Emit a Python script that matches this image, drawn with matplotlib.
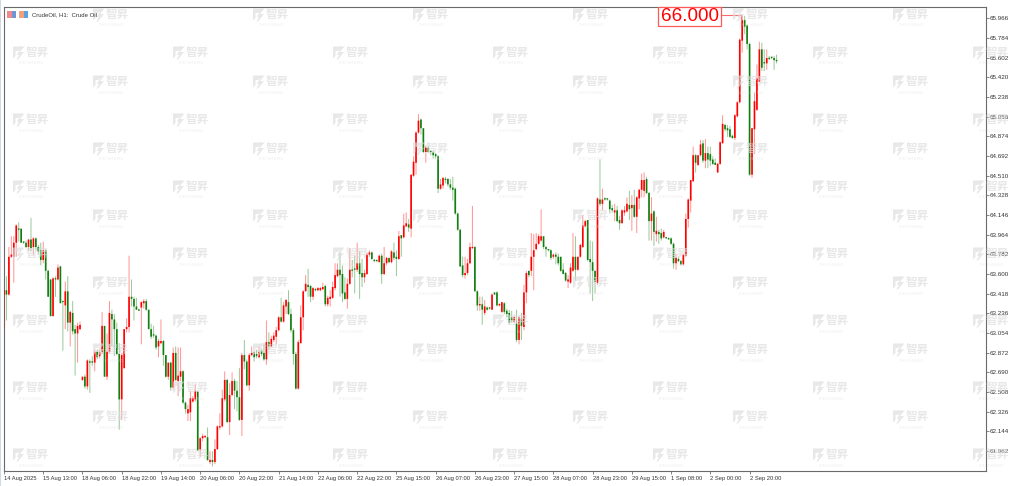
import matplotlib
matplotlib.use("Agg")
import matplotlib.pyplot as plt
from matplotlib.patches import Polygon, Rectangle

W, H = 1011, 486

opens = [
63.41,63.45,63.41,63.76,63.76,63.89,64.02,64.02,63.90,63.89,
63.85,63.92,63.85,63.93,63.85,63.82,63.73,63.82,63.63,63.55,
63.21,63.56,63.55,63.67,63.35,63.31,63.44,63.15,63.24,63.09,
63.05,63.09,62.62,62.65,62.56,62.79,62.79,62.78,62.88,62.84,
62.88,63.12,62.65,62.88,63.23,63.18,63.09,62.86,62.44,62.73,
63.09,63.11,63.39,63.37,63.30,63.27,63.29,63.33,63.35,63.27,
63.09,63.04,63.03,62.93,62.96,62.98,62.85,62.65,62.78,62.55,
62.87,62.61,62.65,62.70,62.41,62.31,62.32,62.42,62.44,62.51,
61.97,62.08,62.09,62.09,61.86,61.88,61.86,61.98,62.18,62.19,
62.44,62.62,62.23,62.48,62.61,62.52,62.46,62.25,62.85,62.79,
62.57,62.85,62.88,62.86,62.83,62.89,62.87,62.81,62.97,62.93,
62.99,63.02,63.08,63.20,63.16,63.30,63.34,63.23,63.08,62.86,
62.54,62.96,63.20,63.44,63.50,63.49,63.39,63.46,63.45,63.45,
63.46,63.49,63.32,63.37,63.38,63.47,63.58,63.64,63.60,63.43,
63.37,63.51,63.64,63.64,63.64,63.70,63.61,63.57,63.60,63.78,
63.80,63.73,63.72,63.71,63.77,63.60,63.70,63.75,63.71,63.80,
63.76,63.74,63.96,63.94,64.04,64.06,64.02,64.51,64.63,64.91,
65.03,64.95,64.73,64.77,64.73,64.73,64.71,64.69,64.39,64.42,
64.48,64.48,64.43,64.40,64.39,64.16,64.01,63.68,63.59,63.61,
63.70,63.84,63.85,63.44,63.31,63.32,63.24,63.29,63.28,63.27,
63.43,63.43,63.31,63.25,63.33,63.26,63.24,63.20,63.16,63.14,
62.99,63.19,63.11,63.43,63.63,63.63,63.76,63.83,63.88,63.91,
63.95,63.85,63.83,63.82,63.76,63.78,63.76,63.76,63.64,63.61,
63.53,63.52,63.63,63.76,63.64,63.76,63.85,64.04,64.10,63.74,
63.71,63.63,63.52,64.29,64.25,64.30,64.29,64.28,64.21,64.17,
64.19,64.10,64.07,64.17,64.18,64.24,64.21,64.24,64.13,64.30,
64.38,64.37,64.48,64.35,64.09,64.18,63.97,63.99,63.98,63.94,
63.94,63.93,63.93,63.88,63.70,63.74,63.72,63.69,63.77,64.11,
64.28,64.46,64.70,64.61,64.70,64.81,64.65,64.72,64.71,64.66,
64.63,64.54,64.62,64.81,64.98,64.95,64.94,64.88,64.86,65.06,
65.19,65.76,65.95,65.90,65.73,64.52,64.94,65.12,65.38,65.68,
65.56,65.55,65.60,65.60,65.60,65.58,
]
closes = [
63.45,63.41,63.76,63.78,63.89,64.05,64.01,63.89,63.89,63.85,
63.92,63.84,63.93,63.85,63.81,63.73,63.82,63.63,63.39,63.21,
63.56,63.55,63.66,63.33,63.34,63.44,63.15,63.25,63.07,63.05,
63.12,63.13,62.65,62.56,62.80,62.78,62.78,62.88,62.83,62.88,
63.12,62.65,62.88,63.24,63.18,63.09,62.86,62.44,62.85,63.09,
63.11,63.39,63.37,63.30,63.27,63.26,63.34,63.35,63.27,63.09,
63.02,63.03,62.92,62.98,62.98,62.85,62.65,62.78,62.55,62.87,
62.62,62.66,62.70,62.41,62.35,62.35,62.45,62.45,62.52,61.97,
62.08,62.10,62.10,61.88,61.88,61.86,61.98,62.19,62.19,62.45,
62.62,62.23,62.48,62.61,62.52,62.46,62.25,62.85,62.79,62.57,
62.85,62.87,62.83,62.84,62.88,62.86,62.81,62.97,62.93,63.00,
63.03,63.08,63.20,63.16,63.31,63.36,63.23,63.08,62.86,62.54,
62.97,63.20,63.44,63.51,63.48,63.39,63.47,63.45,63.47,63.47,
63.48,63.32,63.38,63.39,63.48,63.59,63.64,63.59,63.42,63.37,
63.51,63.64,63.63,63.64,63.70,63.60,63.57,63.61,63.78,63.80,
63.74,63.72,63.72,63.77,63.60,63.70,63.75,63.71,63.81,63.75,
63.74,63.95,63.93,64.05,64.07,64.03,64.52,64.64,64.91,65.02,
64.95,64.73,64.77,64.73,64.73,64.70,64.69,64.39,64.43,64.49,
64.47,64.43,64.40,64.38,64.16,64.01,63.67,63.59,63.61,63.70,
63.85,63.85,63.44,63.31,63.32,63.27,63.30,63.27,63.28,63.41,
63.41,63.31,63.32,63.34,63.25,63.23,63.15,63.17,63.20,62.99,
63.20,63.12,63.43,63.61,63.59,63.76,63.82,63.88,63.95,63.95,
63.85,63.83,63.82,63.75,63.78,63.76,63.70,63.63,63.60,63.54,
63.55,63.66,63.76,63.64,63.76,63.87,64.05,64.09,63.73,63.71,
63.63,63.53,64.30,64.25,64.29,64.29,64.29,64.20,64.19,64.19,
64.09,64.07,64.19,64.19,64.25,64.20,64.24,64.13,64.31,64.38,
64.47,64.47,64.35,64.09,64.16,63.99,64.00,63.97,63.93,63.99,
63.93,63.92,63.88,63.70,63.75,63.72,63.69,63.78,64.11,64.29,
64.47,64.70,64.63,64.70,64.80,64.65,64.72,64.66,64.65,64.62,
64.61,64.62,64.82,64.99,64.94,64.93,64.87,64.86,65.07,65.19,
65.77,65.95,65.89,65.73,64.52,64.95,65.20,65.41,65.68,65.51,
65.55,65.60,65.59,65.60,65.58,65.57,
]
highs = [
63.45,63.58,63.85,63.95,63.95,64.06,64.08,64.02,63.90,63.91,
63.92,64.12,63.94,63.94,63.87,63.89,63.90,63.83,63.64,63.55,
63.57,63.58,63.69,63.68,63.35,63.53,63.58,63.26,63.35,63.13,
63.15,63.16,62.65,62.67,62.81,62.81,62.84,62.90,62.90,62.90,
63.25,63.12,63.05,63.35,63.27,63.23,63.15,62.96,62.87,63.09,
63.19,63.77,63.55,63.39,63.38,63.28,63.35,63.37,63.37,63.27,
63.14,63.12,63.04,63.00,63.18,62.99,62.85,62.78,62.79,62.92,
62.93,62.92,62.92,62.71,62.42,62.39,62.52,62.47,62.58,62.52,
62.09,62.12,62.11,62.18,61.96,61.96,62.07,62.20,62.31,62.53,
62.70,62.63,62.59,62.69,62.63,62.61,62.73,62.87,62.99,62.81,
62.87,62.93,62.88,62.90,62.93,62.91,62.96,63.17,63.06,63.03,
63.06,63.11,63.21,63.38,63.34,63.37,63.45,63.28,63.10,62.88,
62.99,63.31,63.45,63.59,63.65,63.50,63.48,63.47,63.48,63.48,
63.52,63.50,63.40,63.45,63.53,63.70,63.70,63.80,63.68,63.57,
63.56,63.84,63.73,63.77,63.89,63.81,63.74,63.64,63.80,63.82,
63.81,63.74,63.73,63.78,63.79,63.85,63.76,63.75,63.82,63.89,
63.82,64.00,63.96,64.16,64.17,64.11,64.52,64.69,64.92,65.08,
65.04,64.95,64.79,64.79,64.74,64.74,64.72,64.70,64.48,64.50,
64.50,64.49,64.48,64.50,64.40,64.17,64.02,63.76,63.76,63.74,
63.89,64.23,63.86,63.45,63.39,63.39,63.36,63.30,63.29,63.42,
63.43,63.44,63.33,63.34,63.34,63.28,63.27,63.26,63.21,63.27,
63.21,63.24,63.50,63.63,63.63,63.98,63.97,63.98,63.97,64.20,
63.95,63.86,63.83,63.83,63.79,63.80,63.79,63.76,63.70,63.62,
63.59,63.70,63.98,63.95,63.76,63.88,64.15,64.10,64.10,63.91,
63.90,63.63,64.31,64.66,64.39,64.31,64.30,64.29,64.24,64.25,
64.23,64.14,64.20,64.23,64.31,64.37,64.33,64.38,64.32,64.39,
64.53,64.54,64.50,64.36,64.31,64.19,64.13,64.01,64.02,64.01,
63.94,63.94,63.94,63.89,63.79,63.76,63.73,63.79,64.16,64.30,
64.47,64.78,64.71,64.70,64.84,64.84,64.85,64.78,64.78,64.69,
64.67,64.63,64.83,65.07,64.99,64.98,64.97,64.89,65.08,65.20,
65.78,66.00,65.99,65.91,65.74,64.95,65.28,65.54,65.75,65.74,
65.68,65.68,65.62,65.61,65.62,65.63,
]
lows = [
63.09,63.17,63.40,63.75,63.52,63.76,63.90,63.89,63.88,63.84,
63.82,63.81,63.78,63.82,63.78,63.68,63.70,63.55,63.39,63.21,
63.21,63.39,63.54,63.33,62.89,63.09,63.07,62.93,63.04,62.66,
62.78,63.08,62.61,62.54,62.53,62.50,62.75,62.70,62.81,62.82,
62.86,62.65,62.62,62.87,62.93,62.84,62.85,62.16,62.25,62.72,
63.06,63.06,63.30,63.17,63.27,63.26,62.95,63.28,63.26,63.09,
63.00,63.01,62.90,62.83,62.95,62.75,62.64,62.62,62.52,62.53,
62.61,62.47,62.61,62.40,62.31,62.24,62.24,62.41,62.42,61.96,
61.91,62.05,62.08,61.87,61.84,61.82,61.84,61.97,62.16,62.18,
62.42,62.22,62.11,62.47,62.35,62.33,62.24,62.10,62.72,62.56,
62.52,62.84,62.79,62.82,62.82,62.84,62.80,62.76,62.90,62.92,
62.97,62.95,63.07,63.15,63.15,63.23,63.22,63.06,62.76,62.53,
62.53,62.96,63.08,63.44,63.39,63.34,63.36,63.44,63.44,63.44,
63.45,63.30,63.30,63.30,63.37,63.45,63.57,63.39,63.34,63.36,
63.28,63.50,63.57,63.42,63.62,63.37,63.48,63.52,63.59,63.76,
63.73,63.71,63.71,63.71,63.51,63.59,63.68,63.70,63.70,63.73,
63.58,63.73,63.76,63.93,64.04,63.99,63.94,64.50,64.52,64.90,
64.89,64.72,64.63,64.72,64.70,64.67,64.67,64.35,64.38,64.39,
64.44,64.41,64.38,64.28,64.15,64.00,63.67,63.57,63.56,63.59,
63.69,63.83,63.44,63.26,63.26,63.13,63.22,63.26,63.27,63.27,
63.41,63.30,63.30,63.24,63.23,63.20,63.14,63.15,63.15,62.97,
62.95,62.99,63.08,63.33,63.57,63.58,63.45,63.82,63.87,63.90,
63.83,63.76,63.81,63.73,63.74,63.69,63.68,63.62,63.60,63.53,
63.47,63.51,63.62,63.54,63.63,63.75,63.84,64.04,63.72,63.42,
63.35,63.42,63.50,64.23,64.19,64.28,64.28,64.16,64.17,64.09,
64.08,64.01,64.07,64.14,64.17,64.10,64.00,64.12,63.98,64.20,
64.31,64.31,64.34,63.91,63.91,63.86,63.90,63.88,63.91,63.93,
63.93,63.92,63.87,63.65,63.64,63.71,63.68,63.68,63.76,64.03,
64.17,64.45,64.54,64.60,64.69,64.63,64.58,64.58,64.60,64.61,
64.61,64.54,64.61,64.81,64.92,64.87,64.86,64.85,64.84,65.05,
65.18,65.65,65.82,65.68,64.51,64.49,64.71,65.11,65.38,65.48,
65.48,65.49,65.58,65.59,65.49,65.55,
]

y_ticks = [65.966,65.784,65.602,65.420,65.238,65.056,64.874,64.692,64.510,64.328,64.146,63.964,
           63.782,63.600,63.418,63.236,63.054,62.872,62.690,62.508,62.326,62.144,61.962]
x_labels = ["14 Aug 2025","15 Aug 13:00","18 Aug 06:00","18 Aug 22:00","19 Aug 14:00","20 Aug 06:00",
            "20 Aug 22:00","21 Aug 14:00","22 Aug 06:00","22 Aug 22:00","25 Aug 15:00","26 Aug 07:00",
            "26 Aug 23:00","27 Aug 15:00","28 Aug 07:00","28 Aug 23:00","29 Aug 15:00","1 Sep 08:00",
            "2 Sep 00:00","2 Sep 20:00"]
x_ticks = [16 * k for k in range(len(x_labels))]
title = "CrudeOil, H1:  Crude Oil"
peak_value = 66.000
peak_index = 301

RED, GREEN = "#ff0000", "#0f7f0f"
FONT = ["Liberation Sans", "DejaVu Sans"]
WM = "#dcdcdc"

fig = plt.figure(figsize=(W / 100, H / 100), dpi=100, facecolor="white")
L, R, T, B = 3.5, 986, 7, 471
ax = fig.add_axes([L / W, 1 - B / H, (R - L) / W, (B - T) / H])
ax.set_xlim(-0.2, 400.4)
ax.set_ylim(61.777, 66.072)
ax.set_facecolor("none")
for s in ax.spines.values():
    s.set_color("#6a6a6a")
    s.set_linewidth(0.8)

n = len(closes)
xs = list(range(n))
colors = [RED if closes[i] > opens[i] else GREEN for i in xs]
wicks = ax.vlines(xs, lows, highs, colors=colors, linewidth=0.72, alpha=0.42, zorder=3)
wicks.set_snap(False)
body_low = [min(opens[i], closes[i]) for i in xs]
body_h = [max(abs(closes[i] - opens[i]), 0.012) for i in xs]
bars = ax.bar(xs, body_h, bottom=body_low, width=0.68, color=colors, linewidth=0, zorder=4)
for b in bars:
    b.set_snap(False)

ax.yaxis.tick_right()
ax.set_yticks(y_ticks)
ax.set_yticklabels([f"{v:.3f}" for v in y_ticks], fontsize=4.5, family=FONT, color="#333333")
ax.tick_params(axis="y", length=2.2, width=0.5, color="#555555", pad=0.6)
ax.set_xticks(x_ticks)
ax.set_xticklabels(x_labels, fontsize=4.15, family=FONT, color="#333333", ha="left")
ax.tick_params(axis="x", length=2.2, width=0.5, color="#555555", pad=1.2)

# peak label with its connector
ax.plot([(721 - 4) / 2.4525, peak_index - 0.5, peak_index - 0.5],
        [peak_value, peak_value, 65.95], color="#ff6a6a", lw=0.8, zorder=5)
fig.add_artist(Rectangle((658 / W, 1 - 26 / H), 63 / W, 19 / H, transform=fig.transFigure,
                         facecolor="white", edgecolor="#ff5a5a", linewidth=0.9, zorder=6))
fig.text(689.5 / W, 1 - 16.5 / H, f"{peak_value:.3f}", color="#ff0000", fontsize=13.6,
         family=FONT, ha="center", va="center", zorder=7)

# header
fig.text(32 / W, 1 - 14.3 / H, title, fontsize=4.3, family=FONT, color="#333333", va="center", zorder=5)
for x0, c1, c2 in [(7, "#f08a8a", "#6f94d8"), (19, "#f2a27a", "#5fa0e0")]:
    fig.add_artist(Rectangle((x0 / W, 1 - 18 / H), 4.5 / W, 6.5 / H, transform=fig.transFigure,
                             facecolor=c1, edgecolor="none", zorder=5))
    fig.add_artist(Rectangle(((x0 + 4.5) / W, 1 - 18 / H), 4.5 / W, 6.5 / H, transform=fig.transFigure,
                             facecolor=c2, edgecolor="none", zorder=5))
fig.add_artist(Rectangle((0, 0), 1.2 / W, 1, transform=fig.transFigure, facecolor="#cfdae2", edgecolor="none"))

# tiled watermark, laid over the chart
def watermark(cx, cy):
    def P(pts):
        return [((cx + a) / W, 1 - (cy + b) / H) for a, b in pts]
    kw = dict(transform=fig.transFigure, facecolor=WM, edgecolor="none", zorder=4, alpha=0.65)
    fig.add_artist(Polygon(P([(-18, -6.5), (-9, -6.5), (-13, -2), (-15.5, -2), (-15.5, 3), (-18, 5.5)]), **kw))
    fig.add_artist(Polygon(P([(-10, -6.5), (-6.5, -6.5), (-11, -1), (-7, -1), (-13, 6.5), (-14.5, 6.5), (-12, 2), (-14, 2)]), **kw))
    fig.text((cx - 5) / W, 1 - (cy - 0.5) / H, "智昇", color=WM, alpha=0.65, fontsize=8.4,
             family=["Noto Sans CJK SC", "DejaVu Sans"], weight="bold", va="center", ha="left", zorder=4)
    fig.text(cx / W, 1 - (cy + 10.5) / H, "Z H I S H E N G", color=WM, alpha=0.65, fontsize=2.4,
             family=FONT, va="center", ha="center", zorder=4)

ax.set_zorder(1)
for r in range(7):
    for c in range(6):
        watermark(111 + 160 * c, 15 + 67 * r)
for r in range(7):
    for c in range(7):
        watermark(31 + 160 * c, 53 + 67 * r)

fig.savefig("out.png", dpi=100)
